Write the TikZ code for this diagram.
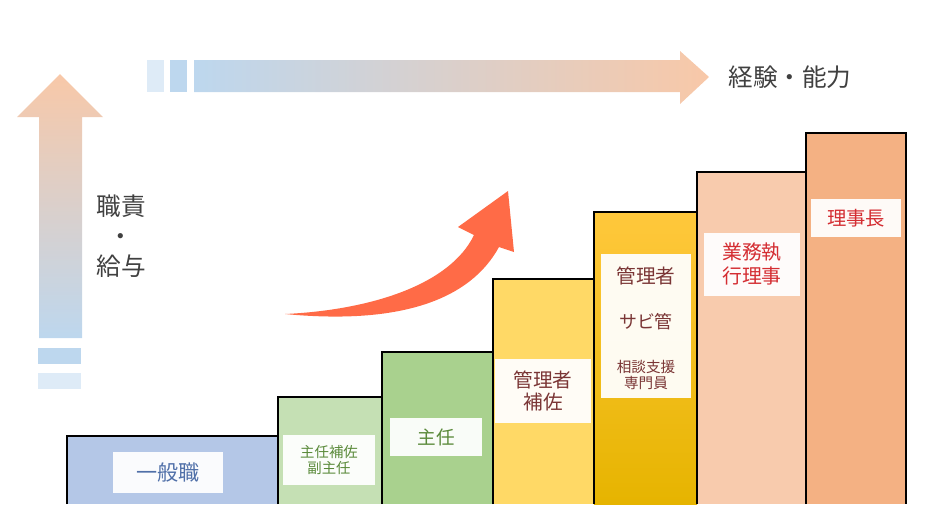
\documentclass[tikz,border=0pt]{standalone}
\usepackage{fontspec}
\setmainfont{Noto Sans CJK JP}
\usepackage{tikz}
\definecolor{arrowblue}{HTML}{BDD7EE}
\definecolor{arrowpale}{HTML}{DEEBF7}
\definecolor{arroworange}{HTML}{F8C8A8}
\definecolor{arrowred}{HTML}{FF6B47}
\definecolor{barblue}{HTML}{B4C7E7}
\definecolor{barpalegreen}{HTML}{C5E0B4}
\definecolor{bargreen}{HTML}{A9D18E}
\definecolor{baryellow}{HTML}{FFD966}
\definecolor{goldtop}{HTML}{FFC83C}
\definecolor{goldbottom}{HTML}{E6B400}
\definecolor{barpeach}{HTML}{F8CBAD}
\definecolor{barorange}{HTML}{F4B183}
\definecolor{txtgray}{HTML}{404040}
\definecolor{txtblue}{HTML}{4F6FA8}
\definecolor{txtgreen}{HTML}{5A8A3A}
\definecolor{txtbrown}{HTML}{7A3535}
\definecolor{txtred}{HTML}{D42D32}

\begin{document}
\begin{tikzpicture}[x=0.02cm, y=-0.02cm,
    labelbox/.style={fill=white, fill opacity=0.94, text opacity=1, inner sep=0pt, align=center},
    baredge/.style={line width=0.8pt}]
    \useasboundingbox (0,0) rectangle (940,529);
    % axes
    \shade[top color=arroworange, bottom color=arrowblue]
        (39,338) -- (39,117) -- (17,117) -- (60,74) -- (103,117) -- (82,117) -- (82,338) -- cycle;
    \fill[arrowblue] (38,348) rectangle (81,364);
    \fill[arrowpale] (38,373) rectangle (81,389);
    \shade[left color=arrowblue, right color=arroworange]
        (194,60) -- (680,60) -- (680,51) -- (709,77) -- (680,104) -- (680,92) -- (194,92) -- cycle;
    \fill[arrowpale] (147,60) rectangle (164,92);
    \fill[arrowblue] (170,60) rectangle (187,92);
    \node[font=\fontsize{14}{17}\selectfont, text=txtgray, align=center] (duty) at (121,236) {職責\\・\\給与};
    \node[font=\fontsize{14}{17}\selectfont, text=txtgray] (skill) at (790,77) {経験・能力};
    % curved arrow
    \fill[arrowred] (285,314) .. controls (370,310) and (450,285) .. (474,235)
        -- (458,227) -- (508,191) -- (514,252) -- (499,247)
        .. controls (470,300) and (400,325) .. (285,314) -- cycle;
    % steps
    \fill[barblue] (67,504) rectangle (278,436);
    \fill[barpalegreen] (278,504) rectangle (382,397);
    \fill[bargreen] (382,504) rectangle (493,352);
    \fill[baryellow] (493,504) rectangle (594,279);
    \shade[top color=goldtop, bottom color=goldbottom] (594,504) rectangle (697,212);
    \fill[barpeach] (697,504) rectangle (806,172);
    \fill[barorange] (806,504) rectangle (906,133);
    \draw[baredge] (67,504) |- (278,436) -- (278,504);
    \draw[baredge] (278,504) |- (382,397) -- (382,504);
    \draw[baredge] (382,504) |- (493,352) -- (493,504);
    \draw[baredge] (493,504) |- (594,279) -- (594,504);
    \draw[baredge] (594,504) |- (697,212) -- (697,504);
    \draw[baredge] (697,504) |- (806,172) -- (806,504);
    \draw[baredge] (806,504) |- (906,133) -- (906,504);
    % labels
    \node[labelbox, minimum width=2.2cm, minimum height=0.82cm, text=txtblue,
        font=\fontsize{12}{14}\selectfont] (staff) at (168,472) {一般職};
    \node[labelbox, minimum width=1.84cm, minimum height=1cm, text=txtgreen,
        font=\fontsize{8.2}{8.8}\selectfont] (subchief) at (329,460) {主任補佐\\副主任};
    \node[labelbox, minimum width=1.86cm, minimum height=0.76cm, text=txtgreen,
        font=\fontsize{10.6}{12}\selectfont] (chief) at (436,437) {主任};
    \node[labelbox, minimum width=1.94cm, minimum height=1.28cm, text=txtbrown,
        font=\fontsize{11.2}{13}\selectfont] (submanager) at (543,391) {管理者\\補佐};
    \node[labelbox, minimum width=1.82cm, minimum height=2.9cm] (manager) at (646,326) {};
    \node[text=txtbrown, font=\fontsize{11.2}{13}\selectfont] (managertop) at (646,276) {管理者};
    \node[text=txtbrown, font=\fontsize{10.2}{12}\selectfont] (sabikan) at (646,322) {サビ管};
    \node[text=txtbrown, font=\fontsize{8.3}{9.6}\selectfont, align=center] (counsel) at (646,375) {相談支援\\専門員};
    \node[labelbox, minimum width=1.94cm, minimum height=1.26cm, text=txtred,
        font=\fontsize{11.3}{13.6}\selectfont] (executive) at (752,264) {業務執\\行理事};
    \node[labelbox, minimum width=1.8cm, minimum height=0.76cm, text=txtred,
        font=\fontsize{11}{13}\selectfont] (chair) at (856,218) {理事長};
\end{tikzpicture}
\end{document}
